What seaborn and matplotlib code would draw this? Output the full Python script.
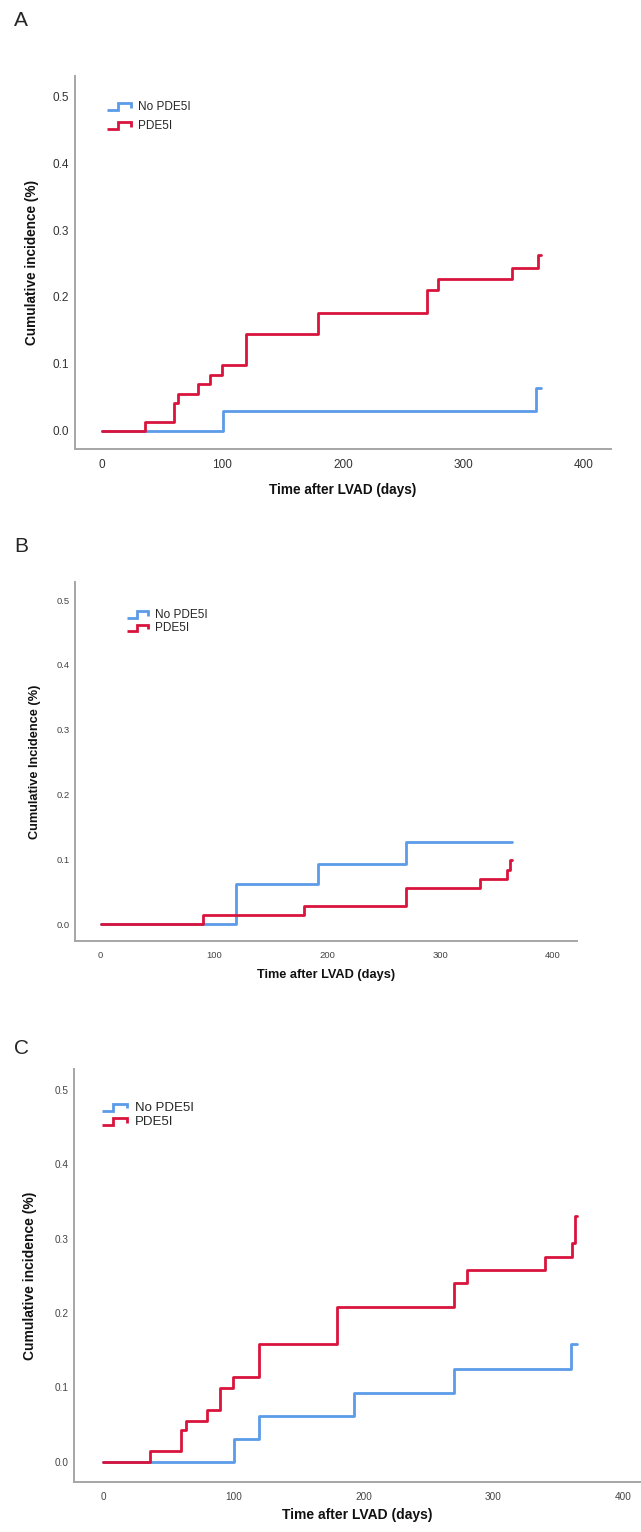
import numpy as np
import pandas as pd
import matplotlib
matplotlib.use("Agg")
import matplotlib.pyplot as plt
import seaborn as sns
from matplotlib.lines import Line2D
from matplotlib.legend_handler import HandlerBase

# Data (days, incidence)
a_no_t = [0, 100.5, 360, 364.5]
a_no_y = [0, 0.030, 0.064, 0.064]
a_p_t = [0, 36, 60, 63.5, 80, 90, 100, 119.5, 179.5, 270, 279, 340, 362, 364.5]
a_p_y = [0, 0.014, 0.041, 0.055, 0.070, 0.084, 0.099, 0.144, 0.176, 0.210, 0.227, 0.244, 0.262, 0.262]

b_no_t = [0, 119.5, 192, 270, 364]
b_no_y = [0, 0.062, 0.093, 0.126, 0.126]
b_p_t = [0, 90, 180, 270, 335, 359.5, 361.5, 364]
b_p_y = [0, 0.014, 0.028, 0.055, 0.070, 0.084, 0.099, 0.099]

c_no_t = [0, 100.5, 119.5, 192.5, 270, 360, 364.5]
c_no_y = [0, 0.030, 0.061, 0.093, 0.125, 0.159, 0.159]
c_p_t = [0, 36, 59.5, 63.5, 80, 90, 100, 119.5, 180, 270, 279.5, 340, 360.5, 363, 364.5]
c_p_y = [0, 0.014, 0.042, 0.055, 0.070, 0.099, 0.114, 0.159, 0.208, 0.241, 0.258, 0.276, 0.294, 0.330, 0.330]

groups = ["No PDE5I", "PDE5I"]
colors = {"No PDE5I": "#5b9be8", "PDE5I": "#d9143c"}
x_ticks = [0, 100, 200, 300, 400]
y_ticks = [0.0, 0.1, 0.2, 0.3, 0.4, 0.5]

sns.set_theme(style="white")
plt.rcParams['font.family'] = ['Liberation Sans', 'DejaVu Sans']

W, H = 641, 1532
fig = plt.figure(figsize=(W / 100, H / 100), dpi=100)


class StepHandler(HandlerBase):
    # little step glyph like the one SPSS puts in its legend
    def create_artists(self, legend, orig_handle, xdescent, ydescent,
                       width, height, fontsize, trans):
        w, h = width, height
        x0, y0 = -xdescent, -ydescent
        xs = [x0, x0 + 0.45 * w, x0 + 0.45 * w, x0 + w, x0 + w]
        ys = [y0 + 0.05 * h, y0 + 0.05 * h, y0 + 0.8 * h, y0 + 0.8 * h, y0 + 0.3 * h]
        line = Line2D(xs, ys, color=orig_handle.get_color(), lw=2.0,
                      solid_joinstyle='miter', solid_capstyle='butt')
        line.set_transform(trans)
        return [line]


def px_axes(left, right, top, bottom):
    return fig.add_axes([left / W, 1 - bottom / H, (right - left) / W, (bottom - top) / H])


def make_df(no_t, no_y, p_t, p_y):
    d1 = pd.DataFrame({"t": no_t, "inc": no_y, "grp": "No PDE5I"})
    d2 = pd.DataFrame({"t": p_t, "inc": p_y, "grp": "PDE5I"})
    return pd.concat([d1, d2], ignore_index=True)


panels = [
    dict(letter="A", df=make_df(a_no_t, a_no_y, a_p_t, a_p_y),
         box=(74.6, 610.5, 76, 449), xlim=(-22.7, 422), ylim=(-0.027, 0.53),
         ylabel="Cumulative incidence (%)", tsize=8.5, tcolor="#333333",
         xlab_y=-0.091, ylab_x=-0.066, lab_size=9.8,
         leg=(107, 101), leg_fs=8.5, leg_hl=2.0, leg_ls=0.6, letter_y=21),
    dict(letter="B", df=make_df(b_no_t, b_no_y, b_p_t, b_p_y),
         box=(75.4, 576.9, 581.9, 941.3), xlim=(-22.4, 421), ylim=(-0.0267, 0.528),
         ylabel="Cumulative Incidence (%)", tsize=6.8, tcolor="#444444",
         xlab_y=-0.077, ylab_x=-0.0686, lab_size=9.2,
         leg=(127, 609), leg_fs=8.5, leg_hl=1.8, leg_ls=0.12, letter_y=547),
    dict(letter="C", df=make_df(c_no_t, c_no_y, c_p_t, c_p_y),
         box=(74.2, 641, 1069.4, 1482), xlim=(-22.4, 413.5), ylim=(-0.0274, 0.528),
         ylabel="Cumulative incidence (%)", tsize=7.2, tcolor="#444444",
         xlab_y=-0.063, ylab_x=-0.0656, lab_size=10,
         leg=(102, 1102), leg_fs=9.5, leg_hl=1.9, leg_ls=0.15, letter_y=1049),
]

for p in panels:
    ax = px_axes(*p["box"])
    sns.lineplot(data=p["df"], x="t", y="inc", hue="grp", hue_order=groups,
                 palette=colors, estimator=None, drawstyle="steps-post",
                 lw=2.0, legend=False, ax=ax)
    # red drawn on top of blue, like the original
    ax.lines[1].set_zorder(3)
    ax.set_xlim(*p["xlim"])
    ax.set_ylim(*p["ylim"])
    ax.set_xticks(x_ticks)
    ax.set_yticks(y_ticks)
    ax.set_xticklabels([str(v) for v in x_ticks])
    ax.set_yticklabels([f"{v:.1f}" for v in y_ticks])
    ax.tick_params(length=0, labelsize=p["tsize"], labelcolor=p["tcolor"])
    ax.tick_params(axis="x", pad=7)
    ax.tick_params(axis="y", pad=4)
    for s in ["top", "right"]:
        ax.spines[s].set_visible(False)
    for s in ["left", "bottom"]:
        ax.spines[s].set_color("#a6a6a6")
        ax.spines[s].set_linewidth(1.4)
    ax.set_xlabel("Time after LVAD (days)", fontsize=p["lab_size"], fontweight="bold", color="#111111")
    ax.set_ylabel(p["ylabel"], fontsize=p["lab_size"], fontweight="bold", color="#111111")
    ax.xaxis.set_label_coords(0.5, p["xlab_y"])
    ax.yaxis.set_label_coords(p["ylab_x"], 0.5)

    handles = [Line2D([], [], color=colors[g]) for g in groups]
    ax.legend(handles, groups, handler_map={Line2D: StepHandler()},
              loc="upper left", bbox_to_anchor=(p["leg"][0] / W, 1 - p["leg"][1] / H),
              bbox_transform=fig.transFigure, frameon=False, borderpad=0,
              borderaxespad=0, fontsize=p["leg_fs"], handlelength=p["leg_hl"],
              handletextpad=0.6, labelspacing=p["leg_ls"])

    fig.text(14 / W, 1 - p["letter_y"] / H, p["letter"], fontsize=15, va="center", ha="left")

fig.savefig("out.png", dpi=100)
